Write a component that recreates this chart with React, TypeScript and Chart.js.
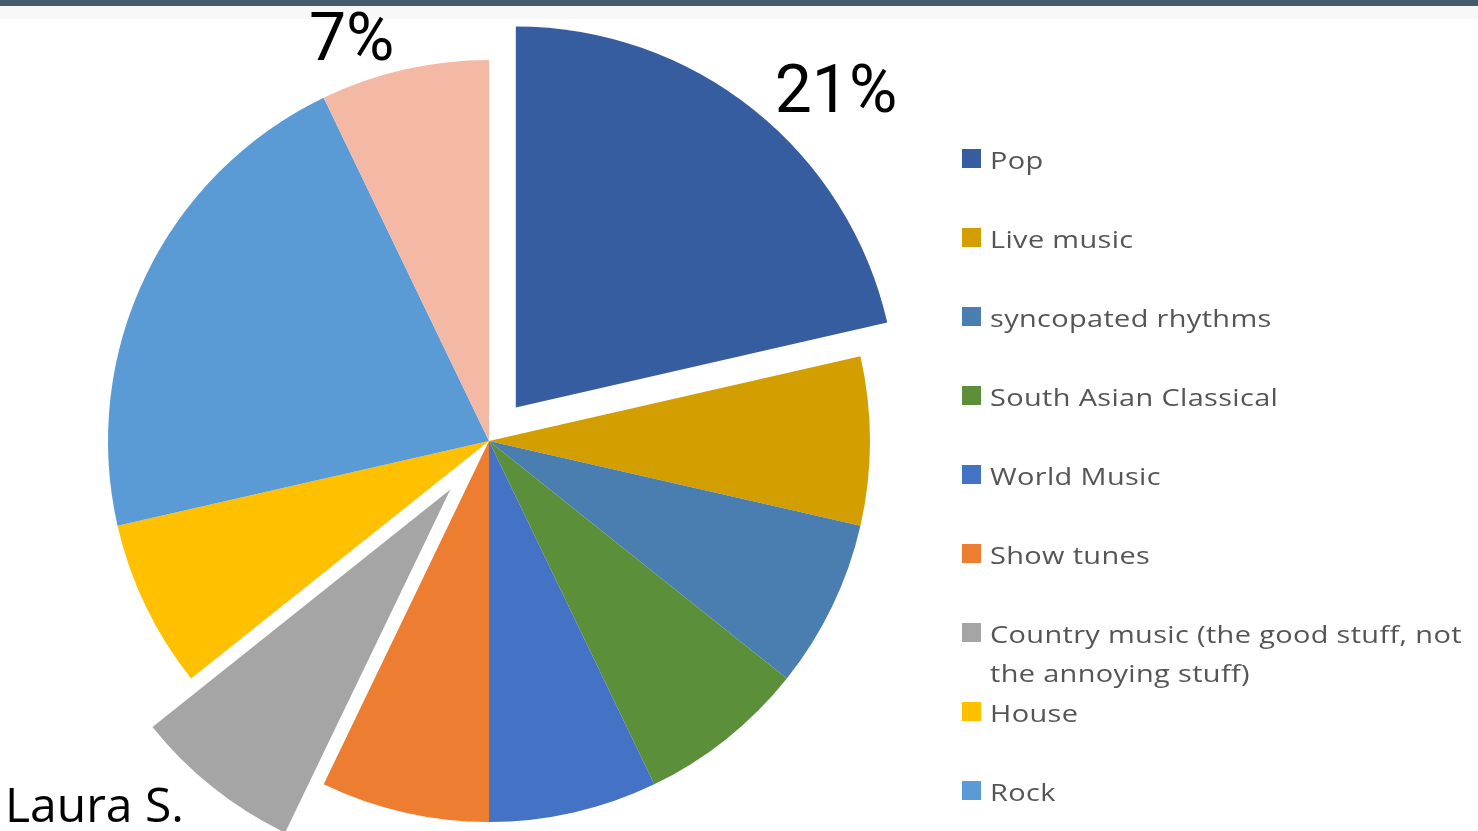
import React, { useEffect, useRef } from "react";
import { Chart, registerables } from "chart.js";

Chart.register(...registerables);

// ---- data ----
const categories: (string | string[])[] = [
  "Pop",
  "Live music",
  "syncopated rhythms",
  "South Asian Classical",
  "World Music",
  "Show tunes",
  ["Country music (the good stuff, not", "the annoying stuff)"],
  "House",
  "Rock",
  "Other",
];
const votes = [3, 1, 1, 1, 1, 1, 1, 1, 3, 1];
const sliceColors = [
  "#365D9F",
  "#D29E00",
  "#4A7EB0",
  "#5B8F3A",
  "#4472C4",
  "#ED7D31",
  "#A5A5A5",
  "#FFC000",
  "#5B9BD5",
  "#F4B9A5",
];
const percentLabelIndexes = [0, 9];

// ---- styling / placement (not data) ----
const explodePx = [43, 0, 0, 0, 0, 0, 62, 0, 0, 0];
const labelPlacement: Record<number, { frac: number; dist: number }> = {
  0: { frac: 0.585, dist: 1.186 },
  9: { frac: 0.27, dist: 1.12 },
};

const explodePlugin = {
  id: "explodeSlices",
  afterDatasetsUpdate(chart: any) {
    const meta = chart.getDatasetMeta(0);
    meta.data.forEach((arc: any, i: number) => {
      const d = explodePx[i];
      if (!d) return;
      const mid = (arc.startAngle + arc.endAngle) / 2;
      arc.x += Math.cos(mid) * d;
      arc.y += Math.sin(mid) * d;
    });
  },
};

const percentPlugin = {
  id: "percentLabels",
  afterDatasetsDraw(chart: any) {
    const ctx = chart.ctx;
    const meta = chart.getDatasetMeta(0);
    const data = chart.data.datasets[0].data as number[];
    const total = data.reduce((a, b) => a + b, 0);
    ctx.save();
    ctx.fillStyle = "#000000";
    ctx.font = "66px Roboto";
    ctx.textAlign = "center";
    ctx.textBaseline = "alphabetic";
    percentLabelIndexes.forEach((i) => {
      const arc = meta.data[i];
      const p = labelPlacement[i];
      const ang = arc.startAngle + p.frac * (arc.endAngle - arc.startAngle);
      const r = arc.outerRadius * p.dist;
      const cx = arc.x + Math.cos(ang) * r;
      const cy = arc.y + Math.sin(ang) * r;
      const txt = Math.round((data[i] / total) * 100) + "%";
      ctx.fillText(txt, cx, cy + 23.5);
    });
    ctx.restore();
  },
};

const legendPlugin = {
  id: "sideLegend",
  afterDraw(chart: any) {
    const ctx = chart.ctx;
    const labels = chart.data.labels as (string | string[])[];
    const colors = chart.data.datasets[0].backgroundColor as string[];
    ctx.save();
    ctx.font = "24.5px 'Open Sans'";
    (ctx as any).letterSpacing = "0.3px";
    ctx.textAlign = "left";
    ctx.textBaseline = "alphabetic";
    labels.forEach((lab, i) => {
      const cy = 159 + i * 79;
      ctx.fillStyle = colors[i];
      ctx.fillRect(962, cy - 10, 19, 19);
      ctx.fillStyle = "#555555";
      const lines = Array.isArray(lab) ? lab : [lab];
      lines.forEach((ln, j) => {
        ctx.save();
        ctx.translate(990, cy + 10 + j * 39);
        ctx.scale(1.18, 1);
        ctx.fillText(ln, 0, 0);
        ctx.restore();
      });
    });
    ctx.restore();
  },
};

export default function App() {
  const canvasRef = useRef<HTMLCanvasElement | null>(null);

  useEffect(() => {
    if (!canvasRef.current) return;
    const chart = new Chart(canvasRef.current, {
      type: "pie",
      data: {
        labels: categories as any,
        datasets: [
          {
            data: votes,
            backgroundColor: sliceColors,
            borderWidth: 0,
            clip: false as any,
          },
        ],
      },
      options: {
        animation: false,
        responsive: true,
        maintainAspectRatio: false,
        events: [],
        radius: 381,
        layout: { padding: { left: 0, right: 500, top: 51, bottom: 0 } },
        plugins: {
          legend: { display: false },
          tooltip: { enabled: false },
          title: { display: false },
        },
      } as any,
      plugins: [explodePlugin, percentPlugin, legendPlugin],
    });
    return () => chart.destroy();
  }, []);

  return (
    <div
      style={{
        position: "fixed",
        left: 0,
        top: 0,
        width: 1478,
        height: 831,
        background: "#ffffff",
        overflow: "hidden",
      }}
    >
      <div style={{ position: "absolute", left: 0, top: 0, width: 1478, height: 6, background: "#455A6A" }} />
      <div style={{ position: "absolute", left: 0, top: 6, width: 1478, height: 13, background: "#F8F8F8" }} />
      <div style={{ position: "absolute", left: 0, top: 0, width: 1478, height: 831 }}>
        <canvas ref={canvasRef} />
      </div>
      <div
        style={{
          position: "absolute",
          left: 5,
          top: 771,
          fontFamily: "'Open Sans'",
          fontSize: 48,
          color: "#000",
          lineHeight: "66px",
          whiteSpace: "nowrap",
        }}
      >
        Laura S.
      </div>
    </div>
  );
}
